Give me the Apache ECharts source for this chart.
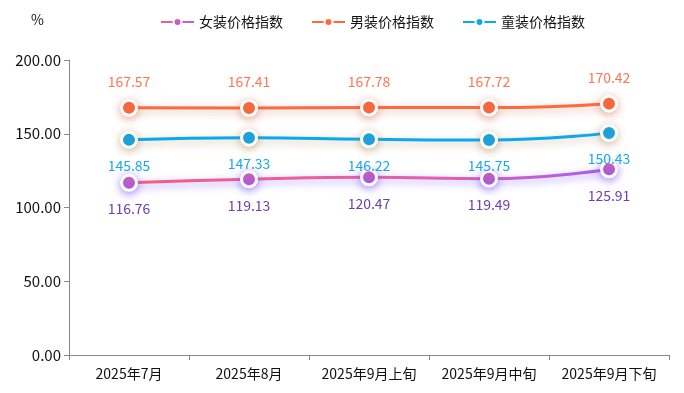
<!DOCTYPE html>
<html>
<head>
<meta charset="utf-8">
<script src="https://cdn.jsdelivr.net/npm/echarts@6/dist/echarts.min.js"></script>
<style>html,body{margin:0;padding:0;background:#fff}</style>
</head>
<body>
<div id="main" style="width:684px;height:393px;"></div>
<script>
var categories = ['2025年7月', '2025年8月', '2025年9月上旬', '2025年9月中旬', '2025年9月下旬'];
var womenData = [116.76, 119.13, 120.47, 119.49, 125.91];
var menData = [167.57, 167.41, 167.78, 167.72, 170.42];
var kidsData = [145.85, 147.33, 146.22, 145.75, 150.43];
var seriesNames = ['女装价格指数', '男装价格指数', '童装价格指数'];

var font = '"Noto Sans CJK SC", sans-serif';
var myChart = echarts.init(document.getElementById('main'));

function grad(stops) {
    return new echarts.graphic.LinearGradient(0, 0, 1, 0, stops);
}

function makeSeries(name, data, lineColor, dotColor, shadowColor, labelColor, pos) {
    return {
        name: name,
        type: 'line',
        smooth: true,
        data: data,
        symbol: 'circle',
        symbolSize: 15,
        lineStyle: {
            width: 3,
            color: lineColor,
            shadowColor: shadowColor,
            shadowBlur: 8,
            shadowOffsetY: 3
        },
        itemStyle: {
            color: dotColor,
            borderColor: '#fff',
            borderWidth: 3,
            shadowColor: shadowColor,
            shadowBlur: 8,
            shadowOffsetY: 2
        },
        label: {
            show: true,
            position: pos,
            distance: 10,
            color: labelColor,
            fontSize: 14,
            fontFamily: font,
            formatter: function (p) { return p.value.toFixed(2); }
        }
    };
}

var womenLine = grad([
    {offset: 0, color: '#f2607e'},
    {offset: 0.65, color: '#e25fae'},
    {offset: 1, color: '#a45ff0'}
]);
var womenDot = new echarts.graphic.LinearGradient(0, 0, 0, 1, [
    {offset: 0, color: '#e8609a'},
    {offset: 1, color: '#a25ee8'}
]);

var option = {
    animation: false,
    color: ['#c86de0', '#ff6a3d', '#0aa8ee'],
    legend: {
        top: 10,
        left: 155,
        itemGap: 28,
        itemWidth: 33,
        itemHeight: 10,
        textStyle: {fontSize: 14, color: '#111', fontFamily: font},
        data: seriesNames
    },
    grid: {left: 69, right: 15, top: 60, bottom: 38, containLabel: false},
    xAxis: {
        type: 'category',
        data: categories,
        boundaryGap: true,
        axisLine: {lineStyle: {color: '#888'}},
        axisTick: {show: true, lineStyle: {color: '#888'}},
        axisLabel: {color: '#111', fontSize: 14, fontFamily: font, interval: 0, margin: 12}
    },
    yAxis: {
        type: 'value',
        name: '%',
        nameLocation: 'end',
        nameGap: 33,
        nameTextStyle: {color: '#111', fontSize: 14, fontFamily: font, align: 'right', padding: [0, 25, 0, 0]},
        min: 0,
        max: 200,
        interval: 50,
        axisLine: {show: true, lineStyle: {color: '#888'}},
        axisTick: {show: true, lineStyle: {color: '#888'}},
        splitLine: {show: false},
        axisLabel: {
            color: '#111',
            fontSize: 15,
            fontFamily: font,
            formatter: function (v) { return v.toFixed(2); }
        }
    },
    series: [
        makeSeries(seriesNames[0], womenData, womenLine, womenDot, 'rgba(120,80,255,0.6)', '#7040b0', 'bottom'),
        makeSeries(seriesNames[1], menData, '#ff6a3d', '#ff6a3d', 'rgba(200,90,60,0.45)', '#ff7550', 'top'),
        makeSeries(seriesNames[2], kidsData, '#0aa8ee', '#0aa8ee', 'rgba(160,120,60,0.45)', '#17a9ec', 'bottom')
    ]
};

myChart.setOption(option);
</script>
</body>
</html>
